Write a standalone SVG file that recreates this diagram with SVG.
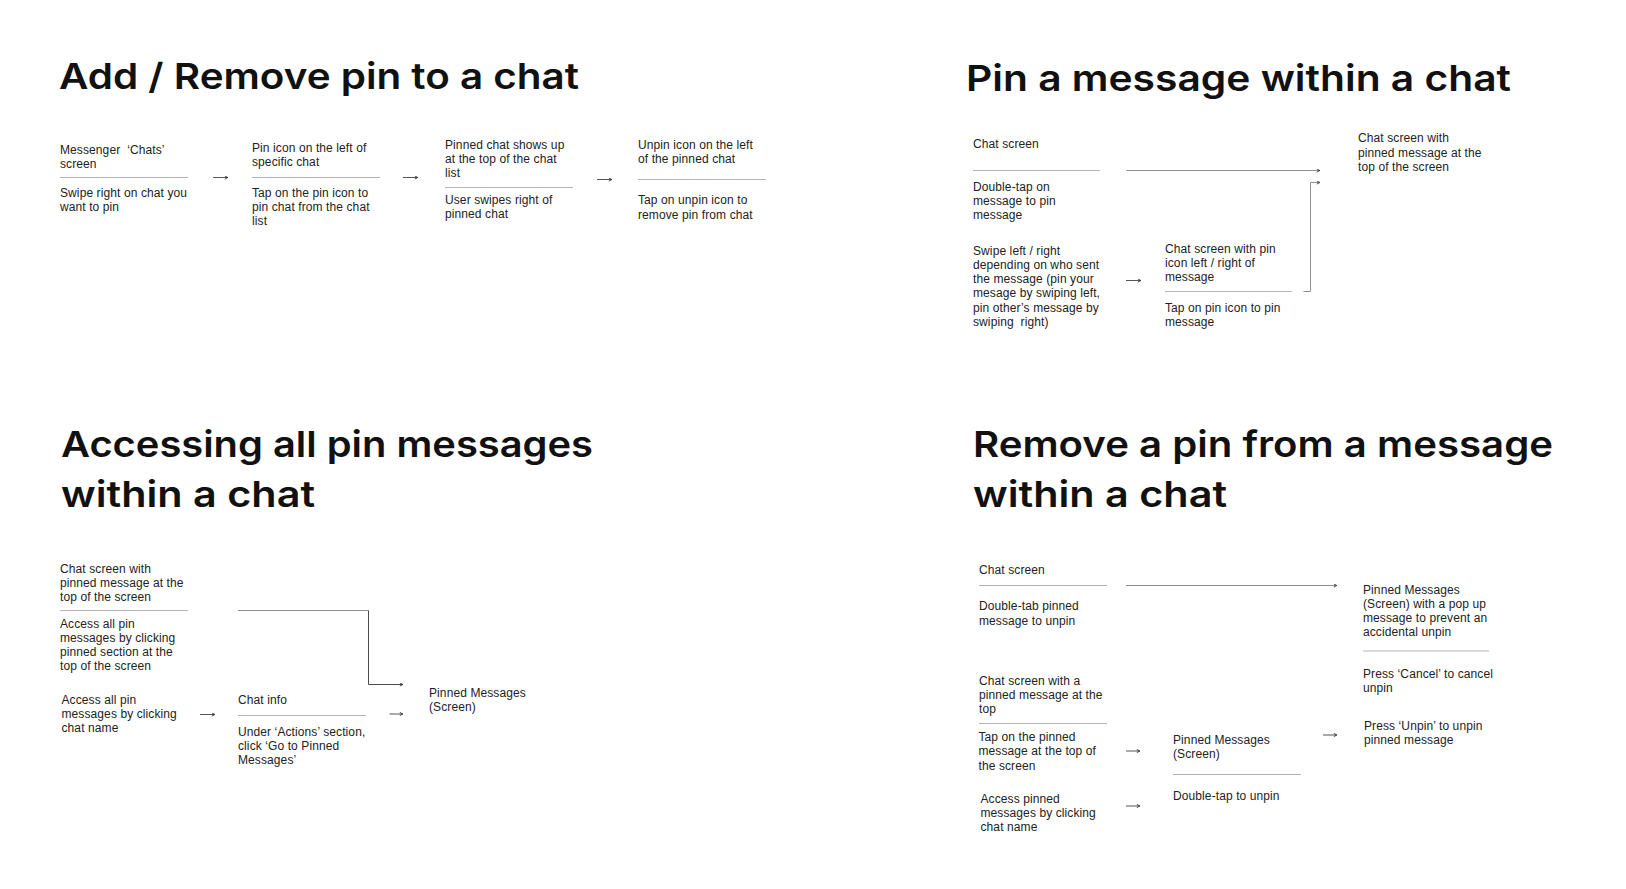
<svg xmlns="http://www.w3.org/2000/svg" width="1626" height="889" viewBox="0 0 1626 889">
<defs>
<style>
.t{font-family:Inter,"Liberation Sans",sans-serif;font-weight:600;font-size:36px;fill:#111}
.b{font-family:"Liberation Sans",Arial,sans-serif;font-size:12px;fill:#222;letter-spacing:0.1px}
.d{stroke:#b4b4b4;stroke-width:1;fill:none}
.c{stroke:#8e8e8e;stroke-width:1;fill:none}
.cd{stroke:#4a4a4a;stroke-width:1;fill:none}
.s{stroke:#555;stroke-width:1;fill:none}
</style>
<marker id="ah" viewBox="0 0 4 4" refX="3.8" refY="2" markerWidth="4" markerHeight="4" markerUnits="userSpaceOnUse" orient="auto">
<path d="M0.6,0.4 L3.6,2 L0.6,3.6" fill="none" stroke="#333" stroke-width="0.9"/>
</marker>
</defs>
<rect width="1626" height="889" fill="#fff"/>

<g id="titles">
<text id="title1" class="t" x="59" y="89" textLength="520" lengthAdjust="spacingAndGlyphs">Add / Remove pin to a chat</text>
<text id="title2" class="t" x="966" y="91" textLength="545" lengthAdjust="spacingAndGlyphs">Pin a message within a chat</text>
<text id="title3a" class="t" x="61" y="457" textLength="532" lengthAdjust="spacingAndGlyphs">Accessing all pin messages</text>
<text id="title3b" class="t" x="61" y="507" textLength="254" lengthAdjust="spacingAndGlyphs">within a chat</text>
<text id="title4a" class="t" x="973" y="457" textLength="580" lengthAdjust="spacingAndGlyphs">Remove a pin from a message</text>
<text id="title4b" class="t" x="973" y="507" textLength="254" lengthAdjust="spacingAndGlyphs">within a chat</text>
</g>

<!-- Section 1 -->
<g id="n1">
<text class="b" x="60" y="154">Messenger&#160; ‘Chats’</text>
<text class="b" x="60" y="168">screen</text>
<line class="d" x1="60" y1="177.5" x2="188" y2="177.5"/>
<text class="b" x="60" y="196.5">Swipe right on chat you</text>
<text class="b" x="60" y="210.7">want to pin</text>
</g>
<g id="n2">
<text class="b" x="252" y="151.5">Pin icon on the left of</text>
<text class="b" x="252" y="165.5">specific chat</text>
<line class="d" x1="252" y1="177.5" x2="380" y2="177.5"/>
<text class="b" x="252" y="196.5">Tap on the pin icon to</text>
<text class="b" x="252" y="210.7">pin chat from the chat</text>
<text class="b" x="252" y="224.9">list</text>
</g>
<g id="n3">
<text class="b" x="445" y="148.5">Pinned chat shows up</text>
<text class="b" x="445" y="162.7">at the top of the chat</text>
<text class="b" x="445" y="176.9">list</text>
<line class="d" x1="445" y1="187.5" x2="573" y2="187.5"/>
<text class="b" x="445" y="204">User swipes right of</text>
<text class="b" x="445" y="218.3">pinned chat</text>
</g>
<g id="n4">
<text class="b" x="638" y="148.5">Unpin icon on the left</text>
<text class="b" x="638" y="162.7">of the pinned chat</text>
<line class="d" x1="638" y1="179.5" x2="766" y2="179.5"/>
<text class="b" x="638" y="204">Tap on unpin icon to</text>
<text class="b" x="638" y="218.5">remove pin from chat</text>
</g>

<!-- Section 2 -->
<g id="n5">
<text class="b" x="973" y="147.5">Chat screen</text>
<line class="d" x1="973" y1="170.5" x2="1100" y2="170.5"/>
<text class="b" x="973" y="191">Double-tap on</text>
<text class="b" x="973" y="205">message to pin</text>
<text class="b" x="973" y="219">message</text>
</g>
<g id="n6">
<text class="b" x="973" y="254.5">Swipe left / right</text>
<text class="b" x="973" y="268.8">depending on who sent</text>
<text class="b" x="973" y="283.1">the message (pin your</text>
<text class="b" x="973" y="297.4">mesage by swiping left,</text>
<text class="b" x="973" y="311.7">pin other’s message by</text>
<text class="b" x="973" y="326">swiping&#160; right)</text>
</g>
<g id="n7">
<text class="b" x="1165" y="252.5">Chat screen with pin</text>
<text class="b" x="1165" y="266.5">icon left / right of</text>
<text class="b" x="1165" y="280.7">message</text>
<line class="d" x1="1165" y1="291.5" x2="1292" y2="291.5"/>
<text class="b" x="1165" y="311.5">Tap on pin icon to pin</text>
<text class="b" x="1165" y="325.8">message</text>
</g>
<g id="n8">
<text class="b" x="1358" y="142.3">Chat screen with</text>
<text class="b" x="1358" y="156.5">pinned message at the</text>
<text class="b" x="1358" y="170.8">top of the screen</text>
</g>

<!-- Section 3 -->
<g id="n9">
<text class="b" x="60" y="572.5">Chat screen with</text>
<text class="b" x="60" y="586.7">pinned message at the</text>
<text class="b" x="60" y="601">top of the screen</text>
<line class="d" x1="60" y1="610.5" x2="188" y2="610.5"/>
<text class="b" x="60" y="627.5">Access all pin</text>
<text class="b" x="60" y="641.8">messages by clicking</text>
<text class="b" x="60" y="656.1">pinned section at the</text>
<text class="b" x="60" y="670.4">top of the screen</text>
</g>
<g id="n10">
<text class="b" x="61.5" y="704">Access all pin</text>
<text class="b" x="61.5" y="718.2">messages by clicking</text>
<text class="b" x="61.5" y="732.4">chat name</text>
</g>
<g id="n11">
<text class="b" x="238" y="703.5">Chat info</text>
<line class="d" x1="238" y1="715.5" x2="366" y2="715.5"/>
<text class="b" x="238" y="736">Under ‘Actions’ section,</text>
<text class="b" x="238" y="750">click ‘Go to Pinned</text>
<text class="b" x="238" y="764">Messages’</text>
</g>
<g id="n12">
<text class="b" x="429" y="696.5">Pinned Messages</text>
<text class="b" x="429" y="710.5">(Screen)</text>
</g>

<!-- Section 4 -->
<g id="n13">
<text class="b" x="979" y="573.5">Chat screen</text>
<line class="d" x1="979" y1="585.5" x2="1107" y2="585.5"/>
<text class="b" x="979" y="610">Double-tab pinned</text>
<text class="b" x="979" y="624.5">message to unpin</text>
</g>
<g id="n14">
<text class="b" x="979" y="685">Chat screen with a</text>
<text class="b" x="979" y="699">pinned message at the</text>
<text class="b" x="979" y="713">top</text>
<line class="d" x1="979" y1="723.5" x2="1107" y2="723.5"/>
<text class="b" x="978.5" y="741">Tap on the pinned</text>
<text class="b" x="978.5" y="755.3">message at the top of</text>
<text class="b" x="978.5" y="769.6">the screen</text>
</g>
<g id="n15">
<text class="b" x="980.5" y="802.5">Access pinned</text>
<text class="b" x="980.5" y="816.8">messages by clicking</text>
<text class="b" x="980.5" y="831">chat name</text>
</g>
<g id="n16">
<text class="b" x="1173" y="744">Pinned Messages</text>
<text class="b" x="1173" y="758.3">(Screen)</text>
<line class="d" x1="1173" y1="774.5" x2="1301" y2="774.5"/>
<text class="b" x="1173" y="800">Double-tap to unpin</text>
</g>
<g id="n17">
<text class="b" x="1363" y="593.5">Pinned Messages</text>
<text class="b" x="1363" y="607.7">(Screen) with a pop up</text>
<text class="b" x="1363" y="621.9">message to prevent an</text>
<text class="b" x="1363" y="636.1">accidental unpin</text>
<line class="d" x1="1363" y1="651" x2="1489" y2="651"/>
<text class="b" x="1363" y="677.5">Press ‘Cancel’ to cancel</text>
<text class="b" x="1363" y="691.8">unpin</text>
</g>
<g id="n18">
<text class="b" x="1364" y="730">Press ‘Unpin’ to unpin</text>
<text class="b" x="1364" y="744.2">pinned message</text>
</g>

<g id="connectors">
<!-- section 1 -->
<line class="s" x1="213" y1="177.5" x2="228" y2="177.5" marker-end="url(#ah)"/>
<line class="s" x1="403" y1="177.5" x2="418" y2="177.5" marker-end="url(#ah)"/>
<line class="s" x1="597" y1="179.5" x2="612" y2="179.5" marker-end="url(#ah)"/>
<!-- section 2 -->
<line class="c" x1="1126.5" y1="170.5" x2="1320" y2="170.5" marker-end="url(#ah)"/>
<line class="s" x1="1126" y1="280.5" x2="1141" y2="280.5" marker-end="url(#ah)"/>
<path class="c" d="M1303.5,291.5 H1310.5 V182.5 H1320" marker-end="url(#ah)"/>
<!-- section 3 -->
<path class="c" d="M238,610.5 H368.5"/>
<path class="cd" d="M368.5,610.5 V684.5 H403" marker-end="url(#ah)"/>
<line class="s" x1="200" y1="714.5" x2="215" y2="714.5" marker-end="url(#ah)"/>
<line class="s" x1="389.5" y1="714" x2="403" y2="714" marker-end="url(#ah)"/>
<!-- section 4 -->
<line class="c" x1="1126" y1="585.5" x2="1337" y2="585.5" marker-end="url(#ah)"/>
<line class="s" x1="1126" y1="751" x2="1140" y2="751" marker-end="url(#ah)"/>
<line class="s" x1="1126" y1="806" x2="1140" y2="806" marker-end="url(#ah)"/>
<line class="s" x1="1323" y1="735" x2="1337" y2="735" marker-end="url(#ah)"/>
</g>
</svg>
